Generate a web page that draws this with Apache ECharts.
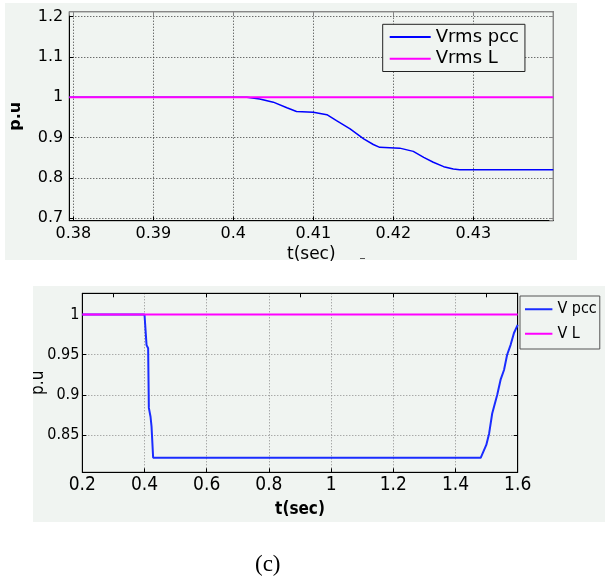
<!DOCTYPE html>
<html>
<head>
<meta charset="utf-8">
<script src="https://cdn.jsdelivr.net/npm/echarts@6/dist/echarts.min.js"></script>
<style>
html,body{margin:0;padding:0;background:#fff;}
#chart{width:605px;height:583px;}
</style>
</head>
<body>
<div id="chart"></div>
<script>
// ---- Top chart (zoomed view) ----
const topTime = [0.3795, 0.4017, 0.4033, 0.405, 0.4067, 0.4079, 0.41, 0.4117, 0.4129, 0.4146, 0.4163, 0.4175, 0.4183, 0.4208, 0.4225, 0.4238, 0.425, 0.4263, 0.4275, 0.4283, 0.44];
const topVrmsPcc = [1, 1, 0.996, 0.988, 0.974, 0.965, 0.963, 0.957, 0.942, 0.922, 0.897, 0.883, 0.876, 0.874, 0.866, 0.851, 0.839, 0.828, 0.822, 0.8206, 0.8206];
const topTimeL = [0.3795, 0.44];
const topVrmsL = [1, 1];
const topXRange = [0.3795, 0.44];
const topYRange = [0.694, 1.2124];

// ---- Bottom chart (full view) ----
const botTime = [0.2, 0.4, 0.4011, 0.4066, 0.4117, 0.414, 0.4194, 0.4226, 0.4278, 1.481, 1.499, 1.508, 1.518, 1.534, 1.545, 1.556, 1.566, 1.577, 1.588, 1.6];
const botVpcc = [1, 1, 0.999, 0.962, 0.958, 0.884, 0.873, 0.861, 0.822, 0.822, 0.838, 0.852, 0.877, 0.9, 0.919, 0.931, 0.95, 0.962, 0.977, 0.987];
const botTimeL = [0.2, 1.6];
const botVL = [1, 1];
const botXRange = [0.2, 1.6];
const botYRange = [0.804, 1.0263];

const zip = (xs, ys) => xs.map((x, i) => [x, ys[i]]);
const PANEL = '#f0f4f1';
const wideFont = 'DejaVu Sans';
const narrowFont = "'Liberation Sans Narrow', 'DejaVu Sans Condensed', 'Arial Narrow', sans-serif";

const chart = echarts.init(document.getElementById('chart'), null, {renderer: 'canvas'});

function secondaryX(grid, range, tickColor) {
  return {gridIndex: grid, type: 'value', position: 'top', min: range[0], max: range[1],
    axisLine: {show: true, lineStyle: {color: tickColor, width: 1}},
    axisTick: {show: true, inside: true, length: 4, lineStyle: {color: tickColor}},
    axisLabel: {show: false}, splitLine: {show: false}};
}
function secondaryY(grid, range, tickColor) {
  return {gridIndex: grid, type: 'value', position: 'right', min: range[0], max: range[1],
    axisLine: {show: true, lineStyle: {color: tickColor, width: 1}},
    axisTick: {show: true, inside: true, length: 4, lineStyle: {color: tickColor}},
    axisLabel: {show: false}, splitLine: {show: false}};
}

const option = {
  animation: false,
  backgroundColor: '#ffffff',
  graphic: [
    {type: 'rect', z: -10, shape: {x: 5, y: 3, width: 572, height: 257}, style: {fill: PANEL}},
    {type: 'rect', z: -10, shape: {x: 33, y: 286, width: 572, height: 236}, style: {fill: PANEL}},
    {type: 'rect', z: 5, shape: {x: 360, y: 258, width: 5, height: 1}, style: {fill: '#555'}},
    {type: 'text', z: 5, left: 255, top: 553, style: {text: '(c)', font: "23px 'Liberation Serif', 'Times New Roman', serif", fill: '#000'}}
  ],
  grid: [
    {left: 69.3, top: 11.7, width: 484, height: 209, show: true, borderColor: '#000', borderWidth: 1, backgroundColor: 'transparent'},
    {left: 82.3, top: 293.3, width: 435.4, height: 179, show: true, borderColor: '#222', borderWidth: 1, backgroundColor: 'transparent'}
  ],
  xAxis: [
    {gridIndex: 0, type: 'value', min: topXRange[0], max: topXRange[1], splitNumber: 6,
      name: 't(sec)', nameLocation: 'middle', nameGap: 25, nameMoveOverlap: false,
      nameTextStyle: {fontFamily: wideFont, fontSize: 17, color: '#000'},
      axisLine: {show: true, lineStyle: {color: '#000'}},
      axisTick: {show: true, inside: true, length: 4, lineStyle: {color: '#000'}},
      axisLabel: {showMinLabel: false, showMaxLabel: false, margin: 5, fontFamily: wideFont, fontSize: 16, color: '#000'},
      splitLine: {show: true, lineStyle: {color: '#333', type: [1, 2], width: 1}}},
    secondaryX(0, topXRange, '#888'),
    {gridIndex: 1, type: 'value', min: botXRange[0], max: botXRange[1], interval: 0.2,
      name: 't(sec)', nameLocation: 'middle', nameGap: 29, nameMoveOverlap: false,
      nameTextStyle: {fontFamily: narrowFont, fontSize: 17, fontWeight: 'bold', color: '#000'},
      axisLine: {show: true, lineStyle: {color: '#000'}},
      axisTick: {show: true, inside: true, length: 4, lineStyle: {color: '#000'}},
      axisLabel: {margin: 3, fontFamily: narrowFont, fontSize: 19, color: '#000'},
      splitLine: {show: true, lineStyle: {color: '#8a8a8a', type: [1, 2], width: 1}}},
    secondaryX(1, botXRange, '#000')
  ],
  yAxis: [
    {gridIndex: 0, type: 'value', min: topYRange[0], max: topYRange[1], splitNumber: 5,
      name: 'p.u', nameLocation: 'middle', nameGap: 45, nameRotate: 90, nameMoveOverlap: false,
      nameTextStyle: {fontFamily: wideFont, fontSize: 16, fontWeight: 'bold', color: '#000'},
      axisLine: {show: true, lineStyle: {color: '#000'}},
      axisTick: {show: true, inside: true, length: 4, lineStyle: {color: '#000'}},
      axisLabel: {showMinLabel: false, showMaxLabel: false, margin: 6, fontFamily: wideFont, fontSize: 16, color: '#000'},
      splitLine: {show: true, lineStyle: {color: '#333', type: [1, 2], width: 1}}},
    secondaryY(0, topYRange, '#888'),
    {gridIndex: 1, type: 'value', min: botYRange[0], max: botYRange[1], splitNumber: 4,
      name: 'p.u', nameLocation: 'middle', nameGap: 35, nameRotate: 90, nameMoveOverlap: false,
      nameTextStyle: {fontFamily: narrowFont, fontSize: 17, color: '#000'},
      axisLine: {show: true, lineStyle: {color: '#000'}},
      axisTick: {show: true, inside: true, length: 4, lineStyle: {color: '#000'}},
      axisLabel: {showMinLabel: false, showMaxLabel: false, margin: 3, fontFamily: narrowFont, fontSize: 16, color: '#000'},
      splitLine: {show: true, lineStyle: {color: '#8a8a8a', type: [1, 2], width: 1}}},
    secondaryY(1, botYRange, '#000')
  ],
  legend: [
    {data: ['Vrms pcc', 'Vrms L'], orient: 'vertical', left: 382.7, top: 24.3,
      padding: [2, 6, 2, 7], itemGap: 0, itemWidth: 41, itemHeight: 2, icon: 'rect',
      borderColor: '#222', borderWidth: 1, borderRadius: 0, backgroundColor: PANEL,
      textStyle: {fontFamily: wideFont, fontSize: 18, color: '#000', lineHeight: 21.6}},
    {data: ['V pcc', 'V L'], orient: 'vertical', left: 520, top: 296,
      padding: [1, 3, 3, 5], itemGap: 0, itemWidth: 27.4, itemHeight: 2, icon: 'rect',
      borderColor: '#555', borderWidth: 1, borderRadius: 0, backgroundColor: PANEL,
      textStyle: {fontFamily: narrowFont, fontSize: 16, color: '#000', lineHeight: 24.5}}
  ],
  series: [
    {name: 'Vrms pcc', type: 'line', xAxisIndex: 0, yAxisIndex: 0, symbol: 'none', data: zip(topTime, topVrmsPcc),
      itemStyle: {color: '#0000ff'}, lineStyle: {color: '#0000ff', width: 1.5}},
    {name: 'Vrms L', type: 'line', xAxisIndex: 0, yAxisIndex: 0, symbol: 'none', data: zip(topTimeL, topVrmsL),
      itemStyle: {color: '#ff00ff'}, lineStyle: {color: '#ff00ff', width: 2}},
    {name: 'V pcc', type: 'line', xAxisIndex: 2, yAxisIndex: 2, symbol: 'none', data: zip(botTime, botVpcc),
      itemStyle: {color: '#1a2cff'}, lineStyle: {color: '#1a2cff', width: 2}},
    {name: 'V L', type: 'line', xAxisIndex: 2, yAxisIndex: 2, symbol: 'none', data: zip(botTimeL, botVL),
      itemStyle: {color: '#ff00ff'}, lineStyle: {color: '#ff00ff', width: 2}}
  ]
};
chart.setOption(option);
</script>
</body>
</html>
